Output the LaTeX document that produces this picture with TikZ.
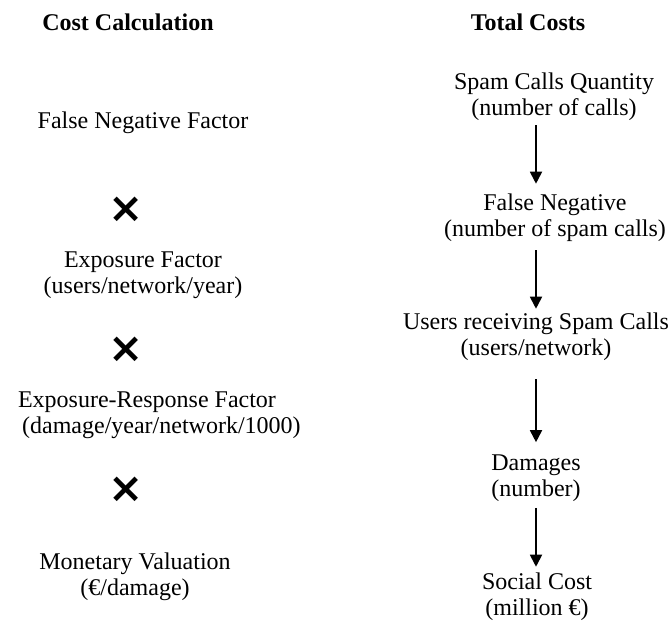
\documentclass[tikz,border=0pt]{standalone}
\usepackage{fontspec}
\setmainfont{Liberation Serif}
\newfontfamily\crossfont{DejaVu Sans}
\usetikzlibrary{arrows.meta}

\begin{document}
\begin{tikzpicture}[x=0.5pt, y=-0.5pt,
	item/.style={align=center, inner sep=0pt, font=\fontsize{12}{13}\selectfont},
	head/.style={inner sep=0pt, font=\fontsize{12}{13}\selectfont\bfseries},
	times/.style={inner sep=0pt, font=\crossfont\fontsize{21}{21}\selectfont\bfseries},
	flow/.style={-{Triangle[width=6pt,length=6pt]}, line width=0.9pt}]
	\useasboundingbox (0,0) rectangle (670,621);

	\node[head] (cc) at (128, 22)      {Cost Calculation};
	\node[head] (tc) at (528, 22)      {Total Costs};

	% cost calculation
	\node[item] (fnf) at (143, 123)     {False Negative Factor};
	\node[times] (x1) at (126, 210)     {×};
	\node[item] (ef) at (143, 275)      {Exposure Factor\\(users/network/year)};
	\node[times] (x2) at (126, 350)     {×};
	\node[item] (erf) at (147, 415)     {Exposure-Response Factor\\\hspace*{1.2em}(damage/year/network/1000)};
	\node[times] (x3) at (126, 490)     {×};
	\node[item] (mv) at (135, 577)      {Monetary Valuation\\(€/damage)};

	% total costs
	\node[item] (sq) at (554, 97)       {Spam Calls Quantity\\(number of calls)};
	\node[item] (fn) at (555, 218)      {False Negative\\(number of spam calls)};
	\node[item] (ur) at (536, 337)      {Users receiving Spam Calls\\(users/network)};
	\node[item] (dm) at (536, 478)      {Damages\\(number)};
	\node[item] (sc) at (537, 597)      {Social Cost\\(million €)};

	\draw[flow, shorten <=2pt, shorten >=5pt] (sq.south -| dm) -- (fn.north -| dm);
	\draw[flow, shorten <=4pt, shorten >=2pt] (fn.south -| dm) -- (ur.north -| dm);
	\draw[flow, shorten <=9pt, shorten >=6pt] (ur.south -| dm) -- (dm.north -| dm);
	\draw[flow, shorten <=3pt, shorten >=3pt] (dm.south -| dm) -- (sc.north -| dm);
\end{tikzpicture}
\end{document}
